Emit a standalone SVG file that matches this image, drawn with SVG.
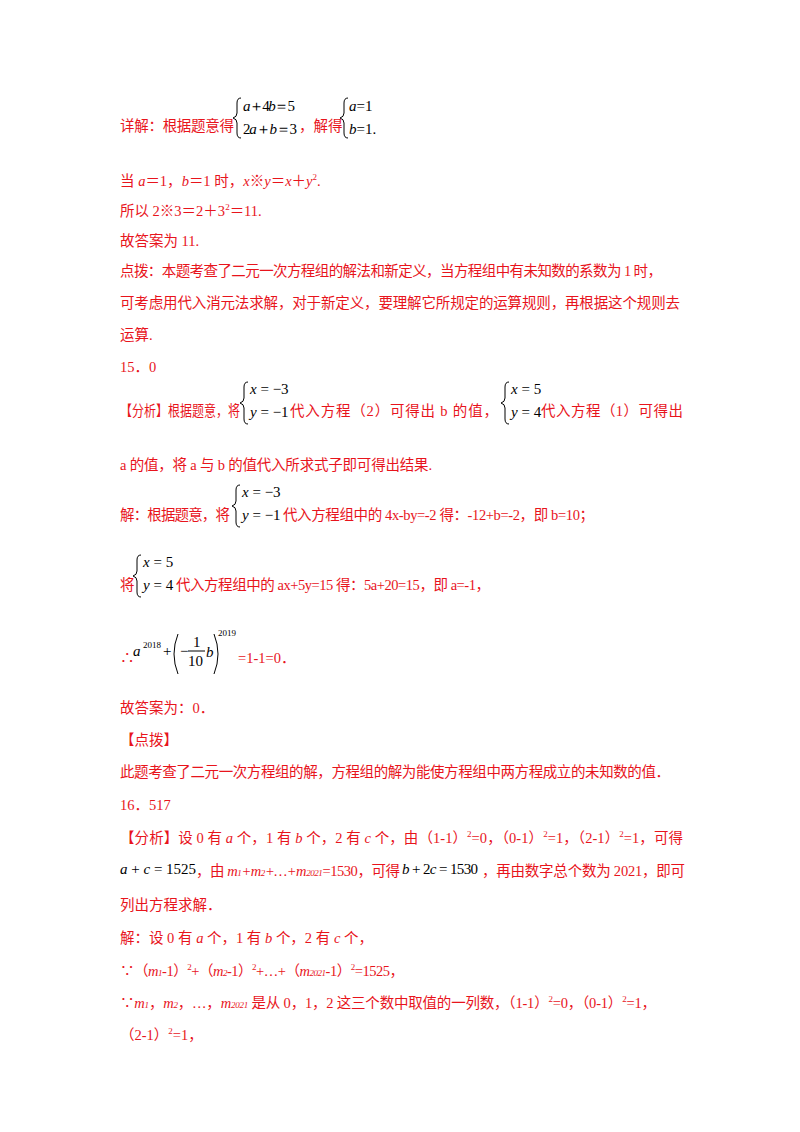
<svg xmlns="http://www.w3.org/2000/svg" width="800" height="1132" viewBox="0 0 800 1132">
<style>
text{font-family:"Liberation Serif","Noto Sans CJK SC",serif;font-size:14.5px;fill:#e8141c}
.m{fill:#000;font-family:"Liberation Serif",serif;font-size:15px}
.i{font-style:italic}
.b{fill:none;stroke:#000;stroke-width:1}
.s{font-size:9px}
</style>
<rect width="800" height="1132" fill="#fff"/>
<g id="p1">
<text x="120" y="131" textLength="114">详解：根据题意得</text>
<path class="b" d="M241,98 q-4,0 -4,5 v10 q0,4 -4,5 q4,1 4,5 v10 q0,5 4,5"/>
<text class="m" x="243" y="111" textLength="52"><tspan class="i">a</tspan>＋4<tspan class="i">b</tspan>＝5</text>
<text class="m" x="243" y="134" textLength="54">2<tspan class="i">a</tspan>＋<tspan class="i">b</tspan>＝3</text>
<text x="299" y="131">，解得</text>
<path class="b" d="M348,98 q-4,0 -4,5 v10 q0,4 -4,5 q4,1 4,5 v10 q0,5 4,5"/>
<text class="m" x="349" y="111"><tspan class="i">a</tspan>=1</text>
<text class="m" x="349" y="134"><tspan class="i">b</tspan>=1.</text>
<text x="120" y="186">当 <tspan class="i">a</tspan>＝1，<tspan class="i">b</tspan>＝1 时，<tspan class="i">x</tspan>※<tspan class="i">y</tspan>＝<tspan class="i">x</tspan>＋<tspan class="i">y</tspan><tspan class="s" dy="-6">2</tspan><tspan dy="6">.</tspan></text>
<text x="120" y="216">所以 2※3＝2＋3<tspan class="s" dy="-6">2</tspan><tspan dy="6">＝11.</tspan></text>
<text x="120" y="246">故答案为 11.</text>
<text x="120" y="276" textLength="542">点拨：本题考查了二元一次方程组的解法和新定义，当方程组中有未知数的系数为 1 时，</text>
<text x="120" y="308" textLength="560">可考虑用代入消元法求解，对于新定义，要理解它所规定的运算规则，再根据这个规则去</text>
<text x="120" y="340">运算.</text>
<text x="120" y="372">15．0</text>
</g>
<g id="p2">
<text x="120" y="416" textLength="120" lengthAdjust="spacingAndGlyphs">【分析】根据题意，将</text>
<path class="b" d="M248,382 q-4,0 -4,5 v11 q0,4 -4,5 q4,1 4,5 v11 q0,5 4,5"/>
<text class="m i" x="250" y="394">x<tspan font-style="normal"> = −3</tspan></text>
<text class="m i" x="250" y="417">y<tspan font-style="normal"> = −1</tspan></text>
<text x="290" y="416" textLength="208">代入方程（2）可得出 b 的值，</text>
<path class="b" d="M509,382 q-4,0 -4,5 v11 q0,4 -4,5 q4,1 4,5 v11 q0,5 4,5"/>
<text class="m i" x="511" y="394">x<tspan font-style="normal"> = 5</tspan></text>
<text class="m i" x="511" y="417">y<tspan font-style="normal"> = 4</tspan></text>
<text x="541" y="416" textLength="142">代入方程（1）可得出</text>
<text x="120" y="470" textLength="312">a 的值，将 a 与 b 的值代入所求式子即可得出结果.</text>
<text x="120" y="520" textLength="110">解：根据题意，将</text>
<path class="b" d="M240,485 q-4,0 -4,5 v11 q0,4 -4,5 q4,1 4,5 v11 q0,5 4,5"/>
<text class="m i" x="242" y="497">x<tspan font-style="normal"> = −3</tspan></text>
<text class="m i" x="242" y="520">y<tspan font-style="normal"> = −1</tspan></text>
<text x="283" y="520" textLength="311">代入方程组中的 4x-by=-2 得：-12+b=-2，即 b=10；</text>
<text x="120" y="590">将</text>
<path class="b" d="M141,555 q-4,0 -4,5 v11 q0,4 -4,5 q4,1 4,5 v11 q0,5 4,5"/>
<text class="m i" x="143" y="567">x<tspan font-style="normal"> = 5</tspan></text>
<text class="m i" x="143" y="590">y<tspan font-style="normal"> = 4</tspan></text>
<text x="176" y="590" textLength="314">代入方程组中的 ax+5y=15 得：5a+20=15，即 a=-1，</text>
<text x="120" y="663">∴</text>
<text class="m i" x="133" y="656" font-size="16">a</text>
<text class="m s" x="143" y="648">2018</text>
<text class="m" x="163" y="656">+</text>
<path class="b" d="M178,634 q-8,20 0,40"/>
<text class="m" x="180" y="656">−</text>
<text class="m" x="193" y="647" font-size="13">1</text>
<line x1="188" y1="651" x2="205" y2="651" stroke="#000"/>
<text class="m" x="188" y="666" font-size="13">10</text>
<text class="m i" x="206" y="657">b</text>
<path class="b" d="M214,634 q8,20 0,40"/>
<text class="m s" x="218" y="636">2019</text>
<text x="238" y="663">=1-1=0．</text>
</g>
<g id="p3">
<text x="120" y="713">故答案为：0．</text>
<text x="120" y="745">【点拨】</text>
<text x="120" y="777" textLength="550">此题考查了二元一次方程组的解，方程组的解为能使方程组中两方程成立的未知数的值．</text>
<text x="120" y="810">16．517</text>
<text x="120" y="843" textLength="563">【分析】设 0 有 <tspan class="i">a</tspan> 个，1 有 <tspan class="i">b</tspan> 个，2 有 <tspan class="i">c</tspan> 个，由（1-1）<tspan class="s" dy="-6">2</tspan><tspan dy="6">=0，（0-1）</tspan><tspan class="s" dy="-6">2</tspan><tspan dy="6">=1，（2-1）</tspan><tspan class="s" dy="-6">2</tspan><tspan dy="6">=1，可得</tspan></text>
<text class="m" x="120" y="874"><tspan class="i">a</tspan> + <tspan class="i">c</tspan> = 1525</text>
<text x="196" y="876" textLength="204">，由 <tspan class="i">m<tspan class="s">1</tspan>+m<tspan class="s">2</tspan>+…+m<tspan class="s">2021</tspan></tspan>=1530，可得</text>
<text class="m" x="402" y="874" textLength="76"><tspan class="i">b</tspan> + 2<tspan class="i">c</tspan> = 1530</text>
<text x="482" y="876" textLength="203">，再由数字总个数为 2021，即可</text>
<text x="120" y="910">列出方程求解．</text>
<text x="120" y="943">解：设 0 有 <tspan class="i">a</tspan> 个，1 有 <tspan class="i">b</tspan> 个，2 有 <tspan class="i">c</tspan> 个，</text>
<text x="120" y="976" textLength="284">∵（<tspan class="i">m<tspan class="s">1</tspan></tspan>-1）<tspan class="s" dy="-6">2</tspan><tspan dy="6">+（</tspan><tspan class="i">m<tspan class="s">2</tspan></tspan>-1）<tspan class="s" dy="-6">2</tspan><tspan dy="6">+…+（</tspan><tspan class="i">m<tspan class="s">2021</tspan></tspan>-1）<tspan class="s" dy="-6">2</tspan><tspan dy="6">=1525，</tspan></text>
<text x="120" y="1008" textLength="536">∵<tspan class="i">m<tspan class="s">1</tspan></tspan>，<tspan class="i">m<tspan class="s">2</tspan></tspan>，…，<tspan class="i">m<tspan class="s">2021</tspan></tspan> 是从 0，1，2 这三个数中取值的一列数，（1-1）<tspan class="s" dy="-6">2</tspan><tspan dy="6">=0，（0-1）</tspan><tspan class="s" dy="-6">2</tspan><tspan dy="6">=1，</tspan></text>
<text x="120" y="1040">（2-1）<tspan class="s" dy="-6">2</tspan><tspan dy="6">=1，</tspan></text>
</g>
</svg>
